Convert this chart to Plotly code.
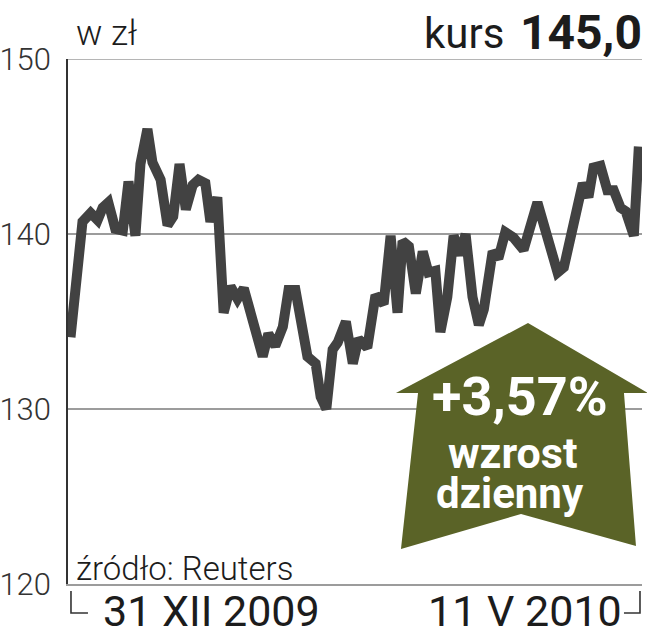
import plotly.graph_objects as go

# ---- data (trading-day index, price in zł) ----
day = [0, 1.9, 3.2, 4.3, 5.1, 6.0, 7.1, 8.3, 9.2, 10.3, 11.1, 12.2, 13.0, 14.3, 15.4,
       16.3, 17.3, 18.3, 19.4, 20.3, 21.4, 22.2, 23.3, 24.3, 25.4, 26.5, 27.5, 29.0,
       30.5, 31.4, 32.5, 33.7, 34.6, 35.7, 36.8, 37.6, 38.9, 39.7, 40.6, 41.6, 42.4,
       43.7, 44.8, 45.7, 47.1, 48.4, 49.7, 50.8, 51.9, 52.7, 53.7, 54.8, 55.9, 56.8,
       57.9, 58.7, 59.8, 60.8, 61.9, 62.7, 63.8, 64.8, 65.6, 67.0, 67.9, 69.0, 70.3,
       71.9, 74.1, 75.4, 77.3, 78.3, 79.4, 80.2, 81.3, 82.2, 83.0, 84.1, 85.2, 86.2,
       87.3, 88.1, 89.4, 90.2]
price = [134.1, 140.7, 141.2, 140.8, 141.5, 141.8, 140.3, 140.2, 143.0, 139.9, 144.0,
         146.0, 144.1, 143.1, 140.5, 141.0, 144.0, 141.4, 142.8, 143.1, 142.9, 140.7,
         142.1, 135.5, 137.0, 136.3, 136.9, 134.7, 133.0, 134.3, 133.6, 134.7, 136.8,
         136.8, 134.9, 133.0, 132.6, 130.7, 130.0, 133.4, 133.8, 135.0, 132.6, 134.0,
         133.5, 136.5, 136.0, 139.9, 135.5, 139.6, 139.3, 136.6, 139.0, 137.8, 137.9,
         134.4, 136.4, 139.9, 138.8, 140.0, 136.4, 134.8, 135.7, 139.0, 138.6, 140.1,
         139.8, 139.1, 141.8, 140.0, 137.8, 138.1, 139.9, 140.8, 142.9, 142.1, 143.8,
         143.9, 142.5, 142.5, 141.5, 141.3, 139.9, 145.0]
y_ticks = [120, 130, 140, 150]
unit_label = "w zł"
kurs_label = "kurs"
kurs_value = "145,0"
change_label = "+3,57%"
change_words = ["wzrost", "dzienny"]
source_label = "źródło: Reuters"
date_labels = ["31 XII 2009", "11 V 2010"]

# ---- layout geometry (pixels) ----
W, H = 647, 640
L, R, T, B = 68, 642, 59, 584


def px(x):
    return (x - L) / (R - L)


def py(y):
    return (B - y) / (B - T)


FONT = "Roboto, Liberation Sans, sans-serif"
GRID = "#9c9c9c"
INK = "#1c1c1c"
OLIVE = "#5a6327"

fig = go.Figure()
fig.add_trace(go.Scatter(
    x=day, y=price, mode="lines",
    line=dict(color="#424242", width=10),
    hoverinfo="skip", showlegend=False,
))

fig.update_layout(
    width=W, height=H,
    margin=dict(l=L, r=W - R, t=T, b=H - B, pad=0, autoexpand=False),
    paper_bgcolor="white", plot_bgcolor="white",
    showlegend=False,
    xaxis=dict(range=[-0.4, 90.7], showgrid=False, zeroline=False,
               showticklabels=False, ticks="", showline=True, automargin=False,
               linecolor=GRID, linewidth=1.6, fixedrange=True),
    yaxis=dict(range=[120, 150], tickvals=y_ticks, showgrid=True,
               gridcolor=GRID, gridwidth=1.6, zeroline=False, automargin=False,
               showline=True, linecolor="#333333", linewidth=1.6,
               ticks="", ticklabelstandoff=9,
               tickfont=dict(family=FONT, size=31, color="#333333", weight=300),
               fixedrange=True),
)

# top gridline at 150 across full width
fig.add_shape(type="line", xref="paper", yref="y", x0=0, x1=1, y0=150, y1=150,
              line=dict(color=GRID, width=1.6), layer="below")

# arrow
pts = [(528, 323), (648, 393), (624, 393), (636, 546), (521, 514),
       (401, 549), (418, 393), (396, 393)]
path = "M " + " L ".join(f"{px(x):.4f},{py(y):.4f}" for x, y in pts) + " Z"
fig.add_shape(type="path", xref="paper", yref="paper", path=path,
              fillcolor=OLIVE, line=dict(width=0), layer="above")

# bottom brackets
for xs, ys in [([71, 71, 88], [591, 613, 613]), ([624, 640, 640], [613, 613, 591])]:
    d = "M " + " L ".join(f"{px(x):.4f},{py(y):.4f}" for x, y in zip(xs, ys))
    fig.add_shape(type="path", xref="paper", yref="paper", path=d,
                  line=dict(color="#333333", width=1.6))


def ann(text, x, y, size, xanchor="center", color=INK, weight=None):
    f = dict(family=FONT, size=size, color=color)
    if weight:
        f["weight"] = weight
    fig.add_annotation(text=text, x=px(x), y=py(y), xref="paper", yref="paper",
                       xanchor=xanchor, yanchor="middle", showarrow=False,
                       font=f)


ann(unit_label, 74, 33, 35, "left", weight=300)
ann(kurs_label, 506, 34, 42, "right")
ann(f"<b>{kurs_value}</b>", 644, 32, 48, "right")
ann(f"<b>{change_label}</b>", 520, 396, 54, color="white")
ann(f"<b>{change_words[0]}</b>", 512, 453, 43, color="white")
ann(f"<b>{change_words[1]}</b>", 510, 494, 42, color="white")
ann(source_label, 74, 568, 33, "left", weight=300)
ann(date_labels[0], 211, 611, 43)
ann(date_labels[1], 525, 611, 43)

fig.write_html(
    "out.html",
    config={"displayModeBar": False},
    post_script="document.body.style.margin='0';document.body.style.overflow='hidden';",
)
